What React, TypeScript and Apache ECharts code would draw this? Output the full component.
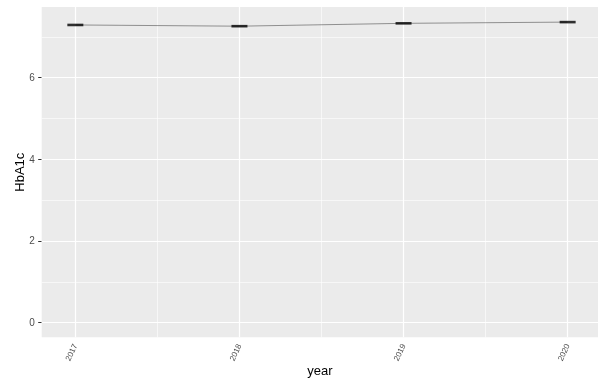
import React, { useEffect, useRef } from "react";
import * as echarts from "echarts";

const years = [2017, 2018, 2019, 2020];
const hba1c = [7.29, 7.26, 7.33, 7.36];
const yTicks = [0, 2, 4, 6];
const yMinor = [1, 3, 5, 7];
const xMinor = [2017.5, 2018.5, 2019.5];

export default function App() {
  const ref = useRef<HTMLDivElement>(null);
  useEffect(() => {
    const chart = echarts.init(ref.current!, null, { renderer: "svg" });
    const font = "Liberation Sans, Arial, Helvetica, sans-serif";
    const pts = years.map((y, i) => [y, hba1c[i]]);
    const vLine = (v: number, w: number) => ({ xAxis: v, lineStyle: { color: "#FFFFFF", width: w, type: "solid" } });
    const hLine = (v: number, w: number) => ({ yAxis: v, lineStyle: { color: "#FFFFFF", width: w, type: "solid" } });
    chart.setOption({
      animation: false,
      grid: {
        left: 41.7,
        top: 7,
        right: 0,
        bottom: 44.7,
        show: true,
        backgroundColor: "#EBEBEB",
        borderWidth: 0,
        outerBoundsMode: "none",
        containLabel: false,
      },
      xAxis: {
        type: "value",
        min: 2016.795,
        max: 2020.185,
        name: "year",
        nameLocation: "middle",
        nameGap: 27,
        nameMoveOverlap: false,
        nameTextStyle: { fontFamily: font, fontSize: 13, color: "#000" },
        axisLine: { show: false },
        splitLine: { show: false },
        axisTick: { show: true, customValues: years, length: 3.5, lineStyle: { color: "#333333", width: 1 } },
        axisLabel: {
          customValues: years,
          rotate: 65,
          fontSize: 8,
          color: "#4D4D4D",
          fontFamily: font,
          margin: 7,
          formatter: (v: number) => String(Math.round(v)),
        },
      },
      yAxis: {
        type: "value",
        min: -0.36,
        max: 7.73,
        name: "HbA1c",
        nameLocation: "middle",
        nameGap: 16,
        nameMoveOverlap: false,
        nameRotate: 90,
        nameTextStyle: { fontFamily: font, fontSize: 13, color: "#000" },
        axisLine: { show: false },
        splitLine: { show: false },
        axisTick: { show: true, customValues: yTicks, length: 3.5, lineStyle: { color: "#333333", width: 1 } },
        axisLabel: {
          customValues: yTicks,
          fontSize: 10,
          color: "#4D4D4D",
          fontFamily: font,
          margin: 7,
        },
      },
      series: [
        {
          type: "line",
          data: pts,
          symbol: "none",
          lineStyle: { opacity: 0 },
          silent: true,
          z: 1,
          markLine: {
            silent: true,
            z: 1,
            symbol: ["none", "none"],
            label: { show: false },
            animation: false,
            data: [
              ...xMinor.map((v) => vLine(v, 0.6)),
              ...yMinor.map((v) => hLine(v, 0.6)),
              ...years.map((v) => vLine(v, 1.2)),
              ...yTicks.map((v) => hLine(v, 1.2)),
            ],
          },
        },
        {
          type: "line",
          data: pts,
          symbol: "none",
          lineStyle: { color: "#333333", width: 0.5 },
          z: 3,
        },
        {
          type: "scatter",
          data: pts,
          symbol: "rect",
          symbolSize: [16, 2.6],
          itemStyle: { color: "#000000" },
          z: 4,
        },
      ],
    });
    return () => chart.dispose();
  }, []);
  return <div ref={ref} style={{ position: "fixed", left: 0, top: 0, width: 598, height: 382 }} />;
}
